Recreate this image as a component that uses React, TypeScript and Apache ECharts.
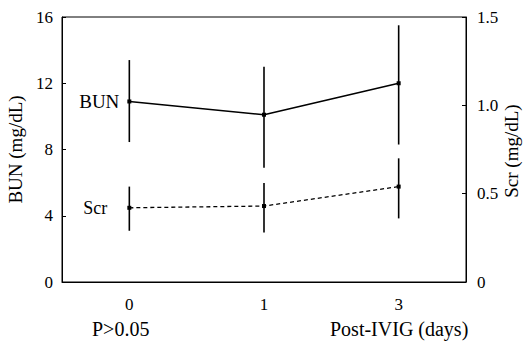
import React, { useEffect, useRef } from "react";
import * as echarts from "echarts";

const days = ["0", "1", "3"];
const bunMean = [10.9, 10.1, 12.0];
const bunLow = [8.45, 6.9, 8.3];
const bunHigh = [13.4, 13.0, 15.5];
const scrMean = [0.42, 0.43, 0.54];
const scrLow = [0.29, 0.28, 0.36];
const scrHigh = [0.54, 0.56, 0.7];
const leftTicks = { min: 0, max: 16, interval: 4 };
const rightTicks = { min: 0, max: 1.5, interval: 0.5 };

const FONT = "Liberation Serif";

export default function App() {
  const ref = useRef<HTMLDivElement>(null);
  useEffect(() => {
    document.body.style.margin = "0";
    const chart = echarts.init(ref.current!, null, { renderer: "svg" });
    const errRender = (params: any, api: any) => {
      const p1 = api.coord([api.value(0), api.value(1)]);
      const p2 = api.coord([api.value(0), api.value(2)]);
      return {
        type: "line",
        shape: { x1: p1[0], y1: p1[1], x2: p2[0], y2: p2[1] },
        style: { stroke: "#000", lineWidth: 1.6 },
      };
    };
    chart.setOption({
      animation: false,
      backgroundColor: "#fff",
      grid: {
        left: 62,
        right: 58,
        top: 17,
        bottom: 65,
        outerBoundsMode: "none",
        containLabel: false,
        show: true,
        borderColor: "#000",
        borderWidth: 1,
      },
      xAxis: {
        type: "category",
        data: days,
        boundaryGap: true,
        axisLine: { lineStyle: { color: "#000", width: 1 } },
        axisTick: { show: false },
        axisLabel: { color: "#000", fontSize: 17, fontFamily: FONT, margin: 14 },
        splitLine: { show: false },
      },
      yAxis: [
        {
          type: "value",
          ...leftTicks,
          name: "BUN (mg/dL)",
          nameLocation: "middle",
          nameRotate: 90,
          nameGap: 31,
          nameTextStyle: { fontSize: 19, fontFamily: FONT, color: "#000" },
          axisLine: { show: true, lineStyle: { color: "#000", width: 1 } },
          axisTick: { show: true, inside: true, length: 4, lineStyle: { color: "#000" } },
          axisLabel: { color: "#000", fontSize: 17, fontFamily: FONT, margin: 9 },
          splitLine: { show: false },
        },
        {
          type: "value",
          ...rightTicks,
          position: "right",
          axisLine: { show: true, lineStyle: { color: "#000", width: 1 } },
          axisTick: { show: true, inside: true, length: 4, lineStyle: { color: "#000" } },
          axisLabel: {
            color: "#000",
            fontSize: 17,
            fontFamily: FONT,
            margin: 11,
            formatter: (v: number) => (v === 0 ? "0" : v.toFixed(1)),
          },
          splitLine: { show: false },
        },
      ],
      series: [
        {
          type: "custom",
          name: "BUN err",
          yAxisIndex: 0,
          renderItem: errRender,
          data: days.map((_, i) => [i, bunLow[i], bunHigh[i]]),
          silent: true,
          z: 3,
        },
        {
          type: "custom",
          name: "Scr err",
          yAxisIndex: 1,
          renderItem: errRender,
          data: days.map((_, i) => [i, scrLow[i], scrHigh[i]]),
          silent: true,
          z: 3,
        },
        {
          type: "line",
          name: "BUN",
          yAxisIndex: 0,
          data: bunMean.map((v, i) =>
            i === 0
              ? {
                  value: v,
                  label: {
                    show: true,
                    position: "left",
                    distance: 8,
                    formatter: "BUN",
                    fontSize: 19,
                    fontFamily: FONT,
                    color: "#000",
                  },
                }
              : v
          ),
          symbol: "rect",
          symbolSize: 4,
          itemStyle: { color: "#000" },
          lineStyle: { color: "#000", width: 1.6 },
          z: 4,
        },
        {
          type: "line",
          name: "Scr",
          yAxisIndex: 1,
          data: scrMean.map((v, i) =>
            i === 0
              ? {
                  value: v,
                  label: {
                    show: true,
                    position: "left",
                    distance: 20,
                    formatter: "Scr",
                    fontSize: 18,
                    fontFamily: FONT,
                    color: "#000",
                  },
                }
              : v
          ),
          symbol: "rect",
          symbolSize: 4,
          itemStyle: { color: "#000" },
          lineStyle: { color: "#000", width: 1.3, type: [4, 3] },
          z: 4,
        },
      ],
      graphic: [
        {
          type: "text",
          x: 511,
          y: 151,
          rotation: Math.PI / 2,
          style: {
            text: "Scr (mg/dL)",
            fontSize: 19,
            fontFamily: FONT,
            fill: "#000",
            align: "center",
            verticalAlign: "middle",
          },
        },
        {
          type: "text",
          left: 92,
          top: 319,
          style: { text: "P>0.05", fontSize: 20, fontFamily: FONT, fill: "#000" },
        },
        {
          type: "text",
          left: 330,
          top: 319,
          style: { text: "Post-IVIG (days)", fontSize: 20, fontFamily: FONT, fill: "#000" },
        },
      ],
    });
    return () => chart.dispose();
  }, []);
  return <div ref={ref} style={{ width: 524, height: 347 }} />;
}
